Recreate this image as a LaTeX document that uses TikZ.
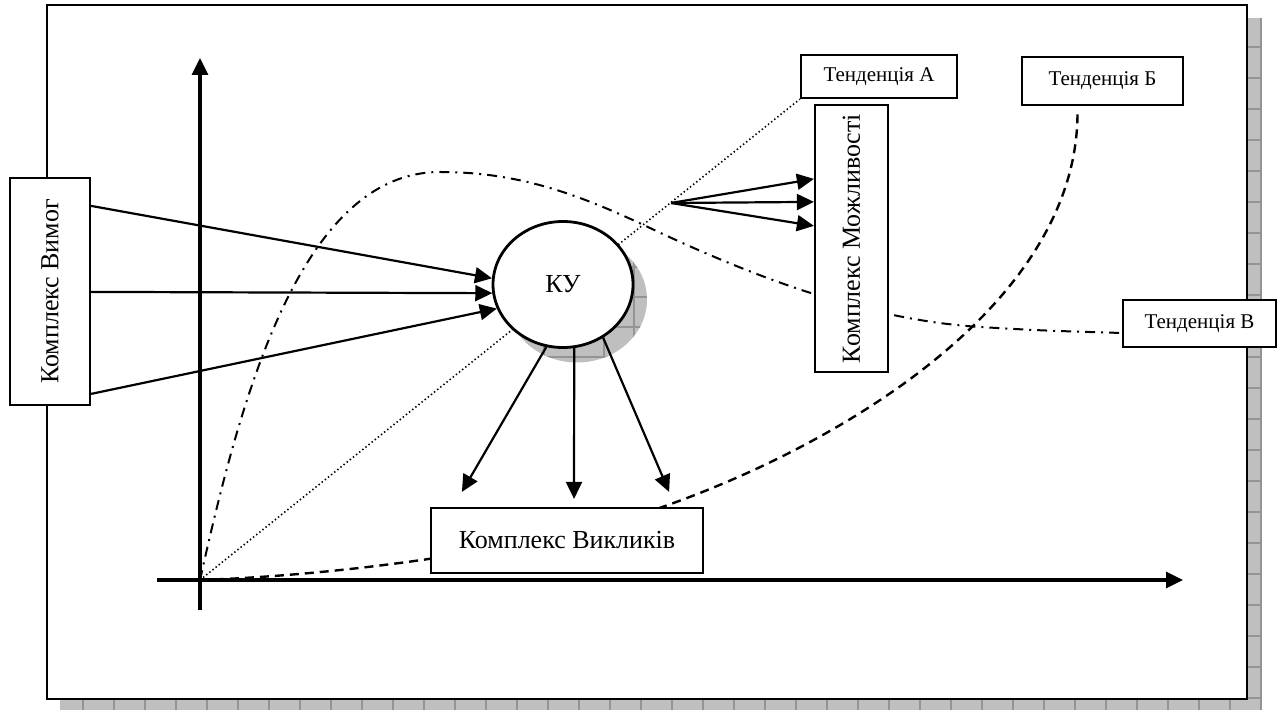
\documentclass[tikz,border=0pt]{standalone}
\usepackage{fontspec}
\usepackage{graphicx}
\setmainfont{Liberation Serif}
\usetikzlibrary{positioning,arrows.meta,calc,shapes.geometric}
\pgfdeclarelayer{frame}
\pgfdeclarelayer{bg}
\pgfsetlayers{frame,bg,main}
\tikzset{
	>={Triangle[length=8.5pt,width=8pt]}
}

\begin{document}
\begin{tikzpicture}[
x = 0.5pt, y = -0.5pt,
every node/.style = {
	font = \fontsize{13}{15}\selectfont
},
box/.style = {
	draw,
	fill = white,
	line width = 1.1pt,
	inner sep = 0pt
},
trend/.style = {
	box,
	font = \fontsize{10.5}{12}\selectfont
},
link/.style = {
	->,
	line width = 1.1pt
},
axis/.style = {
	->,
	line width = 1.6pt
},
shade/.style = {
	fill = black!25
},
gridline/.style = {
	draw = black!42,
	line width = 0.6pt
},
dotline/.style = {
	line width = 0.8pt,
	dash pattern = on 0.7pt off 1.3pt
},
dashline/.style = {
	line width = 1.2pt,
	dash pattern = on 4.5pt off 3pt
},
dashdotline/.style = {
	line width = 1pt,
	dash pattern = on 5pt off 3pt on 1pt off 3pt
}
]
\useasboundingbox (0,0) rectangle (1278,710);

% frame with its shadow
\begin{pgfonlayer}{frame}
\fill[shade] (60,18) rectangle (1262,710);
\begin{scope}
\clip (60,18) rectangle (1262,710);
\foreach \gx in {83,114,...,1262}
	\draw[gridline] (\gx,18) -- (\gx,710);
\foreach \gy in {16,47,...,710}
	\draw[gridline] (60,\gy) -- (1262,\gy);
\end{scope}
\draw[fill=white, line width=1.4pt] (47,5) rectangle (1247,699);
\end{pgfonlayer}

% nodes
\node (ky) [ellipse, draw, fill=white, line width=1.4pt, minimum width=70pt, minimum height=63pt, inner sep=0pt] at (563,284.5) {КУ};
\node (vymoh) [box, minimum width=40pt, minimum height=113.5pt] at (50,291.5) {\rotatebox{90}{Комплекс Вимог}};
\node (mozhl) [box, minimum width=36.5pt, minimum height=133.5pt] at (851.5,238.5) {\rotatebox{90}{Комплекс Можливості}};
\node (vyklyk) [box, minimum width=136pt, minimum height=32.5pt] at (567,540.5) {Комплекс Викликів};
\node (tendA) [trend, minimum width=78pt, minimum height=21.5pt] at (879,76.5) {Тенденція А};
\node (tendB) [trend, minimum width=80.5pt, minimum height=24pt] at (1102.5,81) {Тенденція Б};
\node (tendV) [trend, minimum width=76.5pt, minimum height=23.5pt] at (1199.5,323.5) {Тенденція В};

\coordinate (origin) at (200,580);
\coordinate (ytop) at (200,58);
\coordinate (ybot) at (200,610);
\coordinate (xleft) at (157,580);
\coordinate (xright) at (1183,580);
\coordinate (fan) at (671,203);
\coordinate (tipB) at ($(tendB.south)+(-25,6)$);
\coordinate (tipV) at ($(tendV.west)+(0,9.5)$);

% axes
\draw[axis] (ybot) -- (ytop);
\draw[axis] (xleft) -- (xright);

% trends
\begin{pgfonlayer}{bg}
\draw[dotline] (origin) -- (tendA.south west);
\draw[dashline] (origin) .. controls (350,575) and (550,547) .. (668,505)
	.. controls (850,440) and (1078,300) .. (tipB);
\draw[dashdotline] (origin) .. controls (240,400) and (300,172) .. (440,172)
	.. controls (520,172) and (580,195) .. (650,228)
	.. controls (760,280) and (870,320) .. (980,327)
	.. controls (1040,330.5) .. (tipV);
% shadow of KY
\fill[shade] ([xshift=7pt,yshift=-7.5pt]ky.center) ellipse [x radius=35pt, y radius=31.5pt];
\begin{scope}
\clip ([xshift=7pt,yshift=-7.5pt]ky.center) ellipse [x radius=35pt, y radius=31.5pt];
\foreach \gx in {514,544,...,664}
	\draw[gridline] (\gx,220) -- (\gx,370);
\foreach \gy in {237,267,...,370}
	\draw[gridline] (500,\gy) -- (660,\gy);
\end{scope}
\end{pgfonlayer}

% links
\draw[link] ([yshift=-14.5pt]vymoh.north east) -- (ky.175);
\draw[link] ([yshift=-57.5pt]vymoh.north east) -- (ky.187);
\draw[link] ([yshift=-108.5pt]vymoh.north east) -- (ky.200);

\draw[link] (ky.255) -- ($(vyklyk.north west)+(32,-15)$);
\draw[link] (ky.280) -- ($(vyklyk.north)+(7,-8)$);
\draw[link] (ky.307) -- ($(vyklyk.north east)+(-35,-15)$);

\draw[link] (fan) -- ([yshift=-37.5pt]mozhl.north west);
\draw[link] (fan) -- ([yshift=-49pt]mozhl.north west);
\draw[link] (fan) -- ([yshift=-61pt]mozhl.north west);

\end{tikzpicture}
\end{document}
